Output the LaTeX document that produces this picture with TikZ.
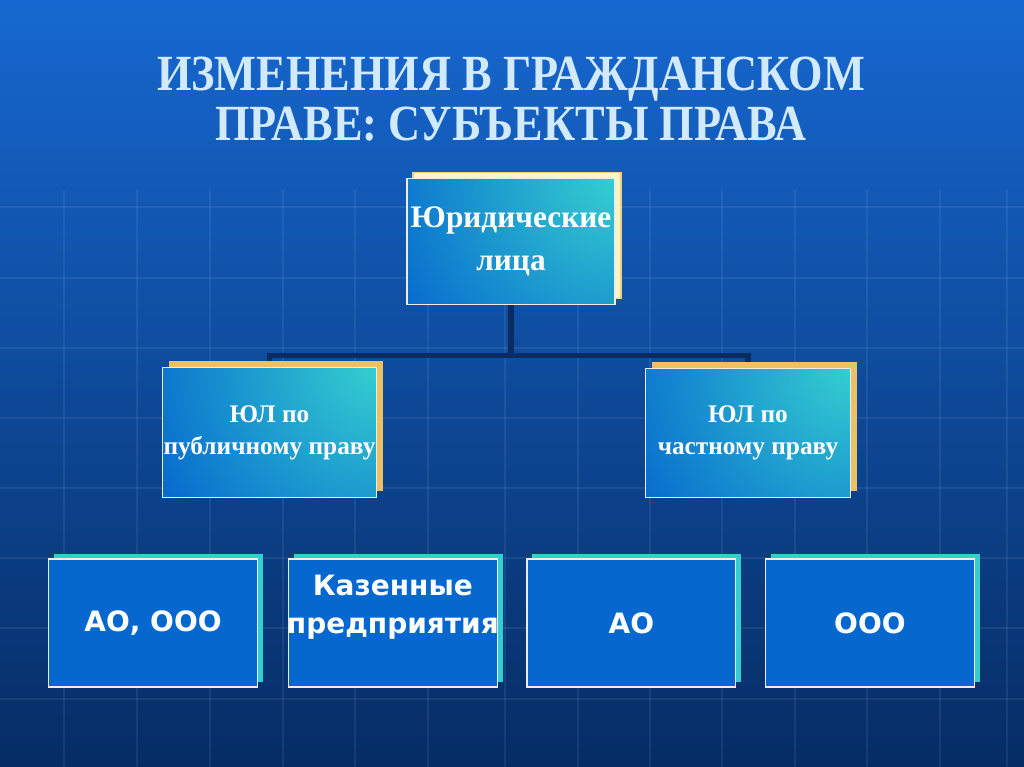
\documentclass[tikz,border=0pt]{standalone}
\usepackage{fontspec}
\setmainfont{Liberation Serif}
\newfontfamily\titlefont[FakeStretch=0.875]{Liberation Serif}
\newfontfamily\boxsans{DejaVu Sans}
\usetikzlibrary{positioning,shadows}

\definecolor{bgtop}{RGB}{22,104,208}
\definecolor{bgbot}{RGB}{6,44,100}
\definecolor{boxblue}{RGB}{6,104,206}
\definecolor{boxcyan}{RGB}{52,206,208}
\definecolor{boxgold}{RGB}{236,192,100}
\definecolor{boxcream}{RGB}{248,244,196}
\definecolor{linenavy}{RGB}{10,44,96}
\definecolor{titletext}{RGB}{210,234,255}

\pgfdeclarelayer{bg0}
\pgfdeclarelayer{background}
\pgfsetlayers{bg0,background,main}

\begin{document}
\begin{tikzpicture}[x=0.75pt,y=-0.75pt,
  box/.style={draw=white!85!gray, line width=0.9pt, text=white, align=center, inner sep=1pt},
  upper/.style={box, fill=boxblue,
    path picture={\shade[inner color=boxcyan, outer color=boxblue]
      (path picture bounding box.north east) circle (190pt);}},
  lower/.style={box, fill=boxblue, minimum width=156.5pt, minimum height=96pt,
    font=\boxsans\bfseries\fontsize{21}{28}\selectfont,
    copy shadow={shadow xshift=4pt, shadow yshift=4pt, fill=boxcyan, draw=none}},
  conn/.style={draw=linenavy, line width=4pt}]

\useasboundingbox (0,0) rectangle (1024,767);

\begin{pgfonlayer}{bg0}
\shade[top color=bgtop, bottom color=bgbot] (0,0) rectangle (1024,767);
\foreach \gx in {64,137,210,283,355,428,505,578,650,722,795,867,940,1007}
  \draw[white, opacity=0.07, line width=1pt] (\gx,190) -- (\gx,767);
\foreach \gy in {207,278,348,418,488,558,628,699}
  \draw[white, opacity=0.07, line width=1pt] (0,\gy) -- (1024,\gy);
\end{pgfonlayer}

\node (t1) at (511,90) [anchor=base, text=titletext,
  font=\titlefont\bfseries\fontsize{38}{40}\selectfont] {ИЗМЕНЕНИЯ В ГРАЖДАНСКОМ};
\node (t2) at (511,140) [anchor=base, text=titletext,
  font=\titlefont\bfseries\fontsize{38}{40}\selectfont] {ПРАВЕ: СУБЪЕКТЫ ПРАВА};

\node (0) at (511,241.5) [upper, minimum width=156pt, minimum height=95pt,
  font=\bfseries\fontsize{23.5}{32}\selectfont,
  copy shadow={shadow xshift=4.5pt, shadow yshift=4.5pt, fill=boxcream, draw=boxgold!70!boxcream}]
  {Юридические\\лица};

\node (1) at (269.5,432.5) [upper, minimum width=154pt, minimum height=97pt,
  font=\bfseries\fontsize{19}{24}\selectfont,
  copy shadow={shadow xshift=5pt, shadow yshift=5pt, fill=boxgold, draw=none}]
  {ЮЛ по\\публичному праву};
\node (2) at (748,433) [upper, minimum width=154pt, minimum height=97pt,
  font=\bfseries\fontsize{19}{24}\selectfont,
  copy shadow={shadow xshift=5pt, shadow yshift=5pt, fill=boxgold, draw=none}]
  {ЮЛ по\\частному праву};

\node (3) at (153,623) [lower] {АО, ООО};
\node (4) [lower, inner xsep=-4pt, right=22.5pt of 3] {Казенные\\предприятия\\\mbox{}};
\node (5) [lower, right=21.5pt of 4] {АО};
\node (6) [lower, right=21.5pt of 5] {ООО};

\begin{pgfonlayer}{background}
\draw[conn] (0.south) -- ++(0,50) -| (1.north);
\draw[conn] (0.south) -- ++(0,50) -| (2.north);
\end{pgfonlayer}
\end{tikzpicture}
\end{document}
